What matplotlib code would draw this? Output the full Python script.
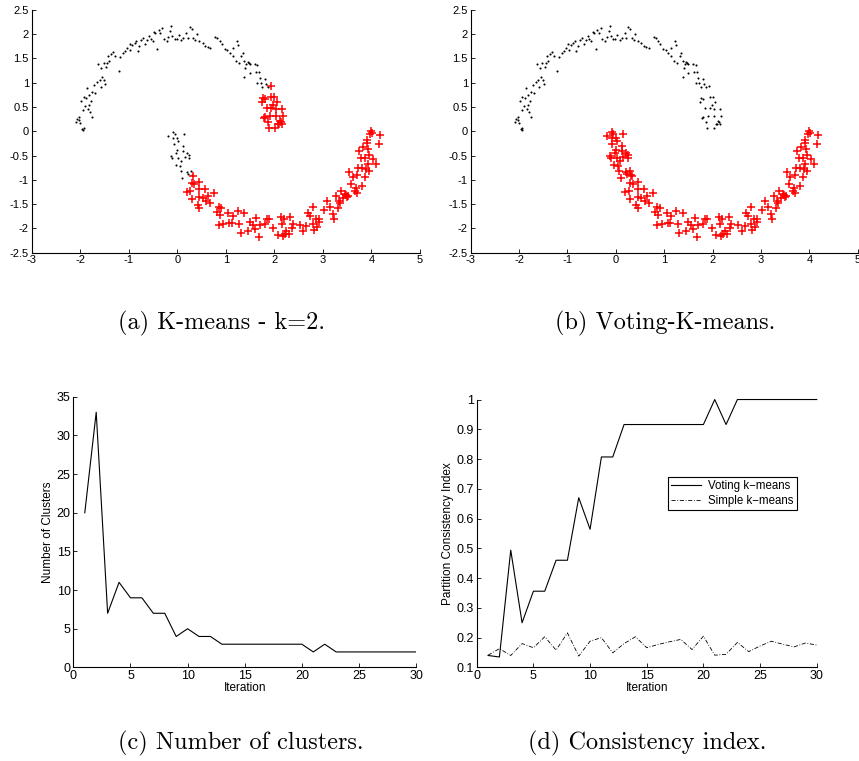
"""Two-moons clustering figure: K-means vs Voting-K-means, plus convergence curves."""

import matplotlib
matplotlib.use("Agg")
import matplotlib.pyplot as plt
import numpy as np

# --- scatter data (a)/(b) ---------------------------------------------------
# upper moon, body (black in both panels)
upper_main = np.array([
    (-2.08, 0.20), (-2.06, 0.26), (-2.02, 0.23), (-2.00, 0.18), (-1.97, 0.05),
    (-1.95, 0.03), (-1.93, 0.07), (-2.03, 0.30), (-1.99, 0.63), (-1.93, 0.70),
    (-1.88, 0.68), (-1.95, 0.43), (-1.90, 0.52), (-1.83, 0.45), (-1.80, 0.40),
    (-1.82, 0.55), (-1.77, 0.62), (-1.75, 0.30), (-1.86, 0.90), (-1.82, 0.75),
    (-1.75, 0.80), (-1.72, 0.95), (-1.70, 0.78), (-1.65, 1.02), (-1.60, 1.05),
    (-1.58, 0.92), (-1.55, 1.12), (-1.50, 1.05), (-1.48, 0.97), (-1.63, 1.38),
    (-1.57, 1.30), (-1.52, 1.40), (-1.47, 1.32), (-1.44, 1.40), (-1.43, 1.55),
    (-1.40, 1.45), (-1.36, 1.60), (-1.32, 1.63), (-1.28, 1.55), (-1.21, 1.24),
    (-1.18, 1.53), (-1.12, 1.62), (-1.08, 1.65), (-1.03, 1.72), (-0.98, 1.80),
    (-0.97, 1.68), (-0.93, 1.78), (-0.88, 1.82), (-0.85, 1.85), (-0.82, 1.65),
    (-0.78, 1.75), (-0.75, 1.88), (-0.70, 1.93), (-0.66, 1.80), (-0.62, 1.87),
    (-0.58, 1.97), (-0.55, 1.90), (-0.51, 1.85), (-0.48, 2.05), (-0.45, 2.02),
    (-0.42, 1.70), (-0.38, 2.08), (-0.35, 2.02), (-0.31, 2.12), (-0.28, 1.90),
    (-0.22, 1.86), (-0.19, 1.95), (-0.15, 2.06), (-0.12, 2.17), (-0.10, 1.97),
    (-0.05, 1.91), (-0.01, 1.90), (0.03, 1.98), (0.08, 1.88), (0.12, 1.92),
    (0.18, 2.02), (0.22, 1.92), (0.26, 2.14), (0.30, 2.10), (0.33, 1.92),
    (0.37, 1.88), (0.40, 2.00), (0.45, 1.85), (0.52, 1.82), (0.58, 1.75),
    (0.63, 1.73), (0.68, 1.72), (0.78, 1.95), (0.82, 1.92), (0.88, 1.85),
    (0.92, 1.80), (0.98, 1.70), (1.03, 1.68), (1.08, 1.62), (1.15, 1.72),
    (1.22, 1.85), (1.25, 1.78), (1.15, 1.55), (1.20, 1.45), (1.27, 1.40),
    (1.32, 1.55), (1.35, 1.62), (1.38, 1.45), (1.40, 1.30), (1.42, 1.38),
    (1.45, 1.42), (1.48, 1.40), (1.50, 1.38), (1.38, 1.12), (1.50, 1.20),
    (1.60, 1.38), (1.65, 1.36), (1.62, 1.22), (1.65, 1.00), (1.68, 1.22),
    (1.70, 1.10), (1.72, 1.00), (1.75, 0.92), (1.80, 1.08), (1.82, 0.98),
    (1.86, 0.92),
])

# upper moon, right tip (red under K-means, black under voting)
upper_tip = np.array([
    (1.93, 0.94), (1.77, 0.68), (1.80, 0.66), (1.94, 0.71), (2.00, 0.71),
    (2.05, 0.60), (1.74, 0.60), (1.84, 0.47), (1.94, 0.47), (2.03, 0.45),
    (2.15, 0.45), (1.81, 0.30), (1.79, 0.27), (1.91, 0.32), (2.03, 0.32),
    (2.17, 0.32), (1.86, 0.20), (2.13, 0.19), (2.15, 0.14), (2.10, 0.16),
    (2.07, 0.14), (1.88, 0.06), (2.02, 0.06), (2.11, 0.22), (1.98, 0.55),
])

# lower moon, left tip (black under K-means, red under voting)
lower_head = np.array([
    (-0.19, -0.09), (-0.08, -0.01), (-0.05, -0.05), (-0.08, -0.14), (0.00, -0.14),
    (0.02, -0.20), (0.14, -0.06), (-0.07, -0.26), (0.12, -0.30), (0.00, -0.38),
    (0.12, -0.40), (0.20, -0.45), (0.25, -0.48), (-0.12, -0.50), (-0.10, -0.56),
    (0.02, -0.56), (0.15, -0.53), (0.25, -0.55), (-0.03, -0.70), (0.05, -0.71),
    (0.07, -0.82), (0.21, -0.83), (0.29, -0.82), (0.10, -0.96), (0.23, -0.89),
    (0.31, -0.90), (-0.02, -0.45), (0.08, -0.62),
])

# lower moon, body (red in both panels)
lower_body = np.array([
    (0.33, -0.92), (0.30, -1.07), (0.35, -1.09), (0.45, -1.04), (0.19, -1.26),
    (0.27, -1.23), (0.45, -1.19), (0.58, -1.18), (0.76, -1.28), (0.30, -1.40),
    (0.45, -1.35), (0.52, -1.38), (0.64, -1.33), (0.60, -1.44), (0.68, -1.47),
    (0.42, -1.52), (0.45, -1.58), (0.85, -1.55), (0.91, -1.58), (0.81, -1.66),
    (0.88, -1.73), (1.05, -1.69), (1.14, -1.75), (1.25, -1.65), (1.38, -1.69),
    (0.85, -1.93), (0.95, -1.92), (1.07, -1.88), (1.12, -1.88), (1.28, -1.91),
    (1.49, -1.86), (1.63, -1.78), (1.85, -1.81), (1.55, -1.93), (1.70, -1.93),
    (1.80, -1.92), (1.98, -2.00), (1.31, -2.10), (1.45, -2.06), (1.60, -2.02),
    (1.68, -2.17), (2.07, -2.13), (2.16, -1.92), (4.00, 0.00), (4.18, -0.08),
    (4.16, -0.27), (3.90, -0.18), (3.91, -0.25), (3.82, -0.32), (3.75, -0.41),
    (3.93, -0.37), (3.96, -0.48), (3.87, -0.56), (4.04, -0.57), (4.10, -0.68),
    (3.78, -0.55), (3.92, -0.68), (3.80, -0.75), (3.73, -0.75), (3.89, -0.77),
    (3.96, -0.82), (3.54, -0.83), (3.70, -0.90), (3.61, -0.95), (3.86, -0.95),
    (3.80, -1.12), (3.57, -1.08), (3.69, -1.16), (3.66, -1.23), (3.70, -1.28),
    (3.37, -1.23), (3.46, -1.30), (3.52, -1.33), (3.42, -1.37), (3.34, -1.44),
    (3.35, -1.48), (3.26, -1.33), (3.08, -1.44), (3.15, -1.57), (3.02, -1.62),
    (3.32, -1.58), (3.20, -1.70), (3.22, -1.80), (2.80, -1.55), (2.69, -1.69),
    (2.73, -1.75), (2.85, -1.80), (2.92, -1.86), (2.80, -1.92), (2.88, -1.98),
    (2.81, -2.03), (2.66, -1.96), (2.60, -2.05), (2.52, -1.94), (2.39, -1.92),
    (2.36, -2.00), (2.33, -1.77), (2.25, -2.05), (2.30, -2.12), (2.20, -1.80),
    (2.13, -1.76), (2.21, -2.12), (2.17, -2.16), (1.88, -1.80), (2.92, -1.80),
    (3.50, -1.36), (3.48, -1.32), (3.97, -0.05), (4.02, -0.03),
])

# --- convergence curves, panels (c)/(d) -------------------------------------
iterations = np.arange(1, 31)
n_clusters = [20, 33, 7, 11, 9, 9, 7, 7, 4, 5, 4, 4, 3, 3, 3, 3, 3, 3, 3, 3,
              2, 3, 2, 2, 2, 2, 2, 2, 2, 2]
voting_pci = [0.14, 0.135, 0.494, 0.25, 0.356, 0.356, 0.46, 0.46, 0.67, 0.564,
              0.807, 0.807, 0.916, 0.916, 0.916, 0.916, 0.916, 0.916, 0.916, 0.916,
              1.0, 0.916, 1.0, 1.0, 1.0, 1.0, 1.0, 1.0, 1.0, 1.0]
simple_pci = [0.141, 0.163, 0.14, 0.18, 0.166, 0.203, 0.158, 0.216, 0.138, 0.188,
              0.2, 0.149, 0.18, 0.203, 0.166, 0.177, 0.186, 0.194, 0.16, 0.205,
              0.141, 0.144, 0.184, 0.153, 0.172, 0.188, 0.178, 0.169, 0.182, 0.175]

captions = ["(a) K-means - k=2.", "(b) Voting-K-means.",
            "(c) Number of clusters.", "(d) Consistency index."]

plt.rcParams["font.family"] = ["Liberation Sans", "DejaVu Sans"]
plt.rcParams["axes.unicode_minus"] = False

fig = plt.figure(figsize=(8.59, 7.61), dpi=100)


def style_axes(ax, size=8):
    for side in ("top", "right"):
        ax.spines[side].set_visible(False)
    for side in ("left", "bottom"):
        ax.spines[side].set_linewidth(0.8)
    ax.tick_params(direction="in", length=3, width=0.6, labelsize=size, pad=2)


def moons(ax, black, red):
    for pts in black:
        ax.plot(pts[:, 0], pts[:, 1], ".", color="black", ms=3, mew=0)
    for pts in red:
        ax.plot(pts[:, 0], pts[:, 1], "+", color="red", ms=6, mew=1.1)
    ax.set_xlim(-3, 5)
    ax.set_ylim(-2.5, 2.5)
    ax.set_xticks(range(-3, 6))
    ax.set_yticks(np.arange(-2.5, 2.51, 0.5))
    ax.set_yticklabels([f"{v:g}" for v in np.arange(-2.5, 2.51, 0.5)])
    style_axes(ax, 8)


ax_a = fig.add_axes([0.0369, 0.668, 0.452, 0.319])
moons(ax_a, [upper_main, lower_head], [upper_tip, lower_body])

ax_b = fig.add_axes([0.548, 0.668, 0.4505, 0.319])
moons(ax_b, [upper_main, upper_tip], [lower_head, lower_body])

ax_c = fig.add_axes([0.0854, 0.123, 0.399, 0.3556])
ax_c.plot(iterations, n_clusters, color="black", lw=0.8)
ax_c.set_xlim(0, 30)
ax_c.set_ylim(0, 35)
ax_c.set_xticks(range(0, 31, 5))
ax_c.set_yticks(range(0, 36, 5))
ax_c.set_xlabel("Iteration", fontsize=8.5, labelpad=0)
ax_c.set_ylabel("Number of Clusters", fontsize=8.5, labelpad=2)
style_axes(ax_c, 9)

ax_d = fig.add_axes([0.555, 0.123, 0.3958, 0.352])
ax_d.plot(iterations, voting_pci, color="black", lw=0.8, clip_on=False,
          label="Voting k\u2212means")
ax_d.plot(iterations, simple_pci, color="black", lw=0.6, dashes=(5, 2, 1, 2),
          clip_on=False, label="Simple k\u2212means")
ax_d.set_xlim(0, 30)
ax_d.set_ylim(0.1, 1.0)
ax_d.set_xticks(range(0, 31, 5))
ax_d.set_yticks(np.arange(0.1, 1.01, 0.1))
ax_d.set_yticklabels([f"{v:g}" for v in np.arange(0.1, 1.01, 0.1)])
ax_d.set_xlabel("Iteration", fontsize=8.5, labelpad=0)
ax_d.set_ylabel("Partition Consistency Index", fontsize=8.5, labelpad=2)
style_axes(ax_d, 9)
leg = ax_d.legend(loc="upper left", bbox_to_anchor=(0.562, 0.711), borderaxespad=0,
                  fontsize=8.3, fancybox=False, framealpha=1, handlelength=2.6,
                  borderpad=0.3, labelspacing=0.2, handletextpad=0.6)
leg.get_frame().set_edgecolor("black")
leg.get_frame().set_linewidth(0.8)

cap_pos = [(222, 323), (665, 323), (241, 743), (647, 743)]
for text, (px, py) in zip(captions, cap_pos):
    fig.text(px / 859, 1 - py / 761, text, ha="center", va="center",
             family="cmr10", fontsize=17.5)

fig.savefig("out.png", dpi=100)
